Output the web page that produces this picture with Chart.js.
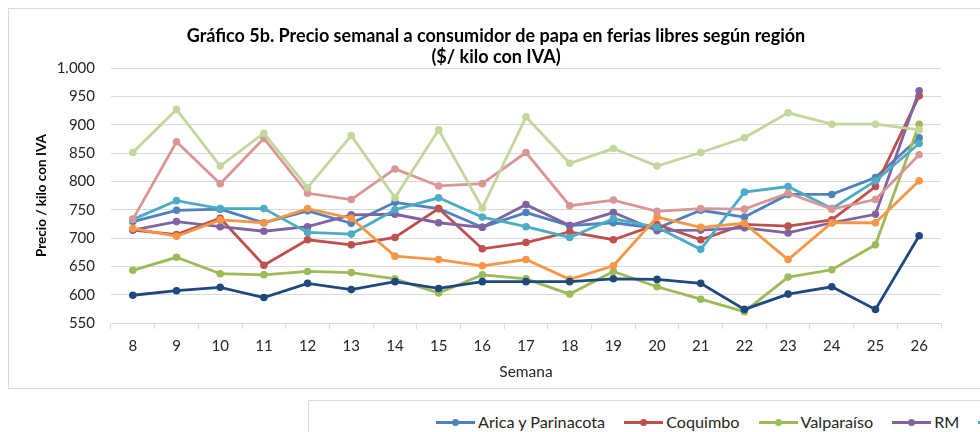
<!DOCTYPE html>
<html>
<head>
<meta charset="utf-8">
<script src="https://cdn.jsdelivr.net/npm/chart.js@4.4.0/dist/chart.umd.min.js"></script>
<style>
  html, body { margin: 0; padding: 0; background: #fff; overflow: hidden; width: 980px; height: 432px; }
  #box { position: absolute; left: 8px; top: 8px; width: 990px; height: 379px; border: 1px solid #d9d9d9; }
  #legbox { position: absolute; left: 308px; top: 400px; width: 700px; height: 60px; border: 1px solid #d9d9d9; }
  #mycanvas { position: absolute; left: 0; top: 0; }
  #legend { position: absolute; left: 436px; top: 411px; height: 22px; line-height: 22px; white-space: nowrap;
            font-family: Lato, sans-serif; font-size: 16.2px; color: #262626; }
  .item { display: inline-block; margin-right: 19px; }
  .ln { display: inline-block; position: relative; width: 39px; height: 3px; vertical-align: middle; margin-right: 3px; top: -1px; }
  .dot { position: absolute; left: 16px; top: -2px; width: 7px; height: 7px; border-radius: 50%; }
</style>
</head>
<body>
<div id="box"></div>
<div id="legbox"></div>
<canvas id="mycanvas" width="990" height="395"></canvas>
<div id="legend"></div>
<script>
// semanas
var semanas = ['8','9','10','11','12','13','14','15','16','17','18','19','20','21','22','23','24','25','26'];

var regiones = ['Arica y Parinacota', 'Coquimbo', 'Valparaíso', 'RM', "O'Higgins", 'Maule', 'Ñuble', 'Biobío', 'La Araucanía'];
var colores = ['#4F81BD', '#C0504D', '#9BBB59', '#8064A2', '#4BACC6', '#F79646', '#1F497D', '#D99694', '#C3D69B'];

var arica      = [729, 749, 751, 727, 748, 726, 763, 752, 719, 745, 722, 727, 717, 749, 737, 777, 777, 807, 877];
var coquimbo   = [714, 706, 735, 652, 697, 688, 701, 752, 681, 692, 711, 697, 724, 697, 724, 721, 732, 791, 951];
var valparaiso = [643, 666, 637, 635, 641, 639, 628, 603, 635, 628, 601, 641, 614, 592, 570, 631, 644, 688, 901];
var rm         = [714, 729, 720, 712, 720, 741, 742, 727, 719, 759, 722, 745, 713, 714, 718, 709, 727, 742, 960];
var ohiggins   = [733, 766, 752, 752, 710, 707, 750, 771, 737, 720, 701, 734, 719, 680, 781, 791, 752, 801, 867];
var maule      = [717, 703, 732, 727, 752, 735, 668, 662, 651, 662, 627, 651, 737, 719, 726, 662, 727, 727, 801];
var nuble      = [599, 607, 613, 595, 620, 609, 623, 611, 623, 623, 623, 628, 627, 620, 574, 601, 614, 574, 704];
var biobio     = [733, 870, 796, 876, 779, 768, 822, 792, 796, 851, 757, 767, 747, 752, 751, 779, 751, 768, 847];
var araucania  = [851, 927, 827, 885, 789, 881, 771, 891, 753, 914, 832, 858, 827, 851, 877, 921, 901, 901, 891];

var series = [arica, coquimbo, valparaiso, rm, ohiggins, maule, nuble, biobio, araucania];

var yMin = 550, yMax = 1000, yPaso = 50;

function miles(v) {
    return String(v).replace(/\B(?=(\d{3})+(?!\d))/g, '.');
}

var fuente = 'Lato, sans-serif';
var gris = '#d9d9d9';

var datasets = [];
for (var i = 0; i < series.length; i++) {
    datasets.push({
        label: regiones[i],
        data: series[i],
        borderColor: colores[i],
        backgroundColor: colores[i],
        pointBackgroundColor: colores[i],
        pointBorderWidth: 0,
        pointRadius: 3.8,
        borderWidth: 2.8,
        tension: 0,
        order: series.length - i   // excel dibuja la ultima serie encima
    });
}

var ctx = document.getElementById('mycanvas');
var grafico = new Chart(ctx, {
    type: 'line',
    data: { labels: semanas, datasets: datasets },
    options: {
        responsive: false,
        animation: false,
        devicePixelRatio: 1,
        layout: { padding: { left: 8, right: 6, top: 0, bottom: 10 } },
        plugins: {
            legend: { display: false },
            tooltip: { enabled: false },
            title: {
                display: true,
                text: ['Gráfico 5b. Precio semanal a consumidor de papa en ferias libres según región', '($/ kilo con IVA)'],
                color: '#000',
                font: { family: fuente, size: 18, weight: 'bold', lineHeight: 1.17 },
                padding: { top: 26, bottom: 0 }
            }
        },
        scales: {
            x: {
                offset: true,
                grid: { offset: true, color: gris, drawOnChartArea: false, drawTicks: true, tickLength: 6 },
                border: { display: true, color: gris },
                ticks: { color: '#262626', font: { family: fuente, size: 15 }, padding: 8, maxRotation: 0, autoSkip: false },
                title: { display: true, text: 'Semana', color: '#262626', font: { family: fuente, size: 15.5 }, padding: { top: 0, bottom: 4 } },
                afterFit: function(s) { s.height = 62; }
            },
            y: {
                min: yMin,
                max: yMax,
                ticks: { stepSize: yPaso, color: '#262626', font: { family: fuente, size: 15 }, padding: 16, callback: function(v) { return miles(v); } },
                grid: { color: gris, drawTicks: false },
                border: { display: false },
                title: { display: true, text: 'Precio / kilo con IVA', color: '#000', font: { family: fuente, size: 13.5, weight: 'bold' }, padding: { top: 26, bottom: 0 } },
                afterFit: function(s) { s.width = 103; }
            },
            derecha: {
                position: 'right',
                display: true,
                ticks: { display: false },
                grid: { display: false },
                border: { display: false },
                afterFit: function(s) { s.width = 43; }
            }
        }
    }
});

// leyenda html (queda cortada por el borde como en el original)
var leg = document.getElementById('legend');
for (var j = 0; j < regiones.length; j++) {
    var it = document.createElement('span');
    it.className = 'item';
    it.innerHTML = '<span class="ln" style="background:' + colores[j] + '"><span class="dot" style="background:' + colores[j] + '"></span></span>' + regiones[j];
    leg.appendChild(it);
}
</script>
</body>
</html>
